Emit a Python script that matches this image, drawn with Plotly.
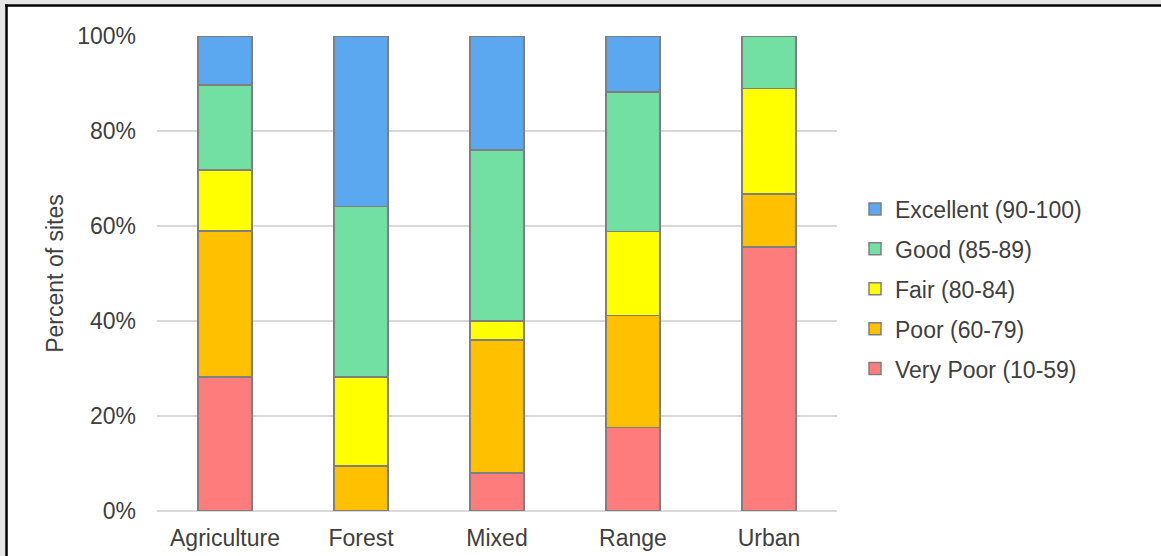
import plotly.graph_objects as go

categories = ["Agriculture", "Forest", "Mixed", "Range", "Urban"]
very_poor = [28.2, 0.0, 8.0, 17.6, 55.6]
poor = [30.8, 9.5, 28.0, 23.6, 11.1]
fair = [12.8, 18.7, 4.0, 17.6, 22.2]
good = [17.9, 35.9, 36.0, 29.4, 11.1]
excellent = [10.3, 35.9, 24.0, 11.8, 0.0]

series_names = ["Very Poor (10-59)", "Poor (60-79)", "Fair (80-84)", "Good (85-89)", "Excellent (90-100)"]
series_values = [very_poor, poor, fair, good, excellent]
series_colors = ["#FF7C7C", "#FFC000", "#FFFF00", "#72E0A3", "#5BA7F0"]

y_ticks = [0, 20, 40, 60, 80, 100]
y_tick_labels = ["0%", "20%", "40%", "60%", "80%", "100%"]

W, H = 1161, 556
L, R, T, B = 157, 324, 36, 45
pw, ph = W - L - R, H - T - B

def px_x(p):
    return (p - L) / pw

def px_y(p):
    return (H - B - p) / ph

font_family = "Liberation Sans, Arial, sans-serif"
text_color = "#404040"
FS = 23

fig = go.Figure()
for i, (name, vals, col) in enumerate(zip(series_names, series_values, series_colors)):
    fig.add_trace(go.Bar(
        x=categories, y=vals, name=name, legendgroup=name, legendrank=1000 - i,
        marker=dict(color=col, line=dict(color="#7F7F7F", width=1.5)),
        width=0.4,
    ))

shapes = [
    dict(type="rect", xref="paper", yref="paper", x0=px_x(0), x1=px_x(W), y0=px_y(0), y1=px_y(4),
         fillcolor="#E6E6E6", line=dict(width=0), layer="above"),
    dict(type="rect", xref="paper", yref="paper", x0=px_x(0), x1=px_x(5), y0=px_y(0), y1=px_y(H),
         fillcolor="#E6E6E6", line=dict(width=0), layer="above"),
    dict(type="line", xref="paper", yref="paper", x0=px_x(5), x1=px_x(W), y0=px_y(5.5), y1=px_y(5.5),
         line=dict(color="#000000", width=2.5), layer="above"),
    dict(type="line", xref="paper", yref="paper", x0=px_x(6.5), x1=px_x(6.5), y0=px_y(4.5), y1=px_y(H),
         line=dict(color="#000000", width=2.5), layer="above"),
]

fig.update_layout(
    width=W, height=H,
    margin=dict(l=L, r=R, t=T, b=B, pad=0, autoexpand=False),
    barmode="stack",
    plot_bgcolor="white", paper_bgcolor="white",
    font=dict(family=font_family, size=FS, color=text_color),
    shapes=shapes,
    legend=dict(
        traceorder="grouped",
        tracegroupgap=7,
        x=px_x(855), xanchor="left",
        y=px_y(289), yanchor="middle",
        font=dict(family=font_family, size=FS, color=text_color),
        bgcolor="rgba(0,0,0,0)",
        itemwidth=30,
    ),
    xaxis=dict(
        range=[-0.5, 4.5], showgrid=False, showline=False, zeroline=False,
        ticks="", tickfont=dict(size=FS, color=text_color),
        ticklabelstandoff=11, automargin=False,
    ),
    yaxis=dict(
        range=[0, 100], tickvals=y_ticks, ticktext=y_tick_labels,
        showgrid=True, gridcolor="#D9D9D9", gridwidth=1.5,
        zeroline=True, zerolinecolor="#D9D9D9", zerolinewidth=1.5,
        showline=False, ticks="", tickfont=dict(size=FS, color=text_color),
        ticklabelstandoff=20, automargin=False,
        title=dict(text="Percent of sites", font=dict(size=FS, color=text_color), standoff=7),
    ),
)

fig.write_html("out.html", config={"displayModeBar": False},
               post_script="document.body.style.margin='0';")
